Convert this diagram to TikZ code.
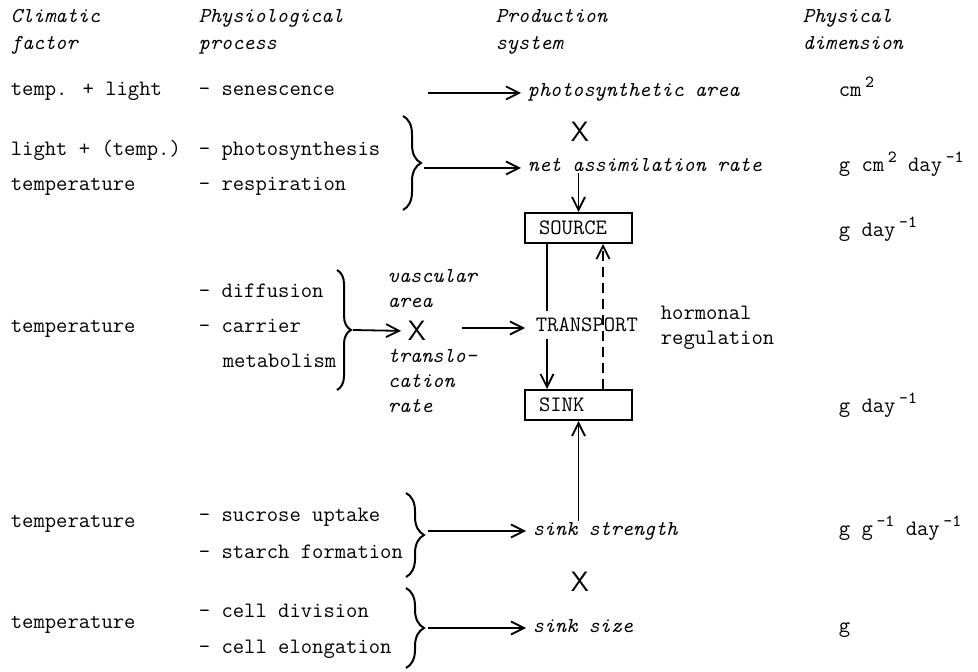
\documentclass[tikz,border=0pt]{standalone}
\usepackage{amsmath}
\usepackage{tikz}
\usetikzlibrary{arrows.meta}
\usetikzlibrary{decorations.pathreplacing}
\tikzset{>={Straight Barb[length=6.5pt,width=6.5pt]}}
\newcommand{\supr}[1]{\,\raisebox{4.5pt}{\fontsize{8.5}{9}\selectfont #1}}
\tikzset{
  txt/.style={anchor=base west, inner sep=0pt, font=\fontsize{11}{13}\selectfont\ttfamily},
  itx/.style={txt, font=\fontsize{10.6}{13}\selectfont\ttfamily\itshape},
  cross/.style={inner sep=0pt, font=\fontsize{14}{14}\selectfont\sffamily},
  boxnode/.style={txt, draw, anchor=center, line width=1pt, text width=39.5pt,
    inner xsep=7pt, minimum height=15pt, align=left},
  bracket/.style={decorate, decoration={brace, amplitude=#1}, line width=1pt},
  bracket/.default=9pt,
}

\begin{document}
\begin{tikzpicture}[x=0.5pt, y=-0.5pt, line width=0.9pt]
  % Define column positions
  \pgfmathsetmacro{\xfac}{10}
  \pgfmathsetmacro{\xproc}{198}
  \pgfmathsetmacro{\xprod}{527}
  \pgfmathsetmacro{\xdim}{838}
  \useasboundingbox (0,0) rectangle (978,672);

  % Column headers
  \node[itx] (hfac1) at (\xfac,23) {Climatic};
  \node[itx] (hfac2) at (\xfac,50) {factor};
  \node[itx] (hpro1) at (\xproc,23) {Physiological};
  \node[itx] (hpro2) at (\xproc,50) {process};
  \node[itx] (hsys1) at (495,23) {Production};
  \node[itx] (hsys2) at (495,50) {system};
  \node[itx] (hdim1) at (802,23) {Physical};
  \node[itx] (hdim2) at (802,50) {dimension};

  % Leaf area and assimilation
  \node[txt] (fac1) at (\xfac,96) {temp. + light};
  \node[txt] (pro1) at (\xproc,96) {- senescence};
  \node[itx] (area) at (\xprod,97) {photosynthetic area};
  \node[txt] (dim1) at (\xdim,97) {cm\supr{2}};
  \coordinate (s1) at (428,93);
  \draw[->, shorten >=3pt] (s1) -- (area.west |- s1);
  \node[cross] (x1) at (580,132) {X};

  \node[txt] (fac2) at (\xfac,156) {light + (temp.)};
  \node[txt] (pro2) at (\xproc,156) {- photosynthesis};
  \node[txt] (fac3) at (\xfac,191) {temperature};
  \node[txt] (pro3) at (\xproc,191) {- respiration};
  \draw[bracket] (403,116) -- (403,210);
  \coordinate (b1) at (424,168);
  \node[itx] (nar) at (\xprod,172) {net assimilation rate};
  \node[txt] (dim2) at (\xdim,172) {g cm\supr{2} day\supr{-1}};
  \draw[->, shorten >=3pt] (b1) -- (nar.west |- b1);

  % Source, transport, sink
  \node[boxnode] (source) at (578.5,228) {SOURCE};
  \node[txt] (dim3) at (\xdim,237) {g day\supr{-1}};
  \draw[->] (source.north |- nar.south) -- (source.north);

  \node[txt] (fac4) at (\xfac,333) {temperature};
  \node[txt] (pro4) at (\xproc,298) {- diffusion};
  \node[txt] (pro5) at (\xproc,333) {- carrier};
  \node[txt] (pro6) at (222,368) {metabolism};
  \draw[bracket=7pt] (337,270) -- (337,390);
  \coordinate (b2) at (353,330);
  \node[cross] (x2) at (417,331) {X};
  \draw[->, shorten >=3pt] (b2) -- (x2.west);
  \node[itx] (vasc1) at (387,283) {vascular};
  \node[itx] (vasc2) at (387,308) {area};
  \node[itx] (trl1) at (387,363) {translo-};
  \node[itx] (trl2) at (387,388) {cation};
  \node[itx] (trl3) at (387,413) {rate};
  \node[txt, inner ysep=3pt] (transport) at (535,332) {TRANSPORT};
  \draw[->, shorten >=5pt] (462,328) -- (transport.west |- 0,328);
  \node[txt] (horm1) at (660,320) {hormonal};
  \node[txt] (horm2) at (660,345) {regulation};

  \node[boxnode] (sink) at (578.5,405) {SINK};
  \node[txt] (dim4) at (\xdim,413) {g day\supr{-1}};
  \draw (source.south west -| 547,0) -- (transport.north -| 547,0);
  \draw[->] (transport.south -| 547,0) -- (sink.north west -| 547,0);
  \draw[->, dash pattern=on 5pt off 3pt] (sink.north west -| 603,0) -- (source.south west -| 603,0);

  % Sink strength and size
  \node[txt] (fac5) at (\xfac,527) {temperature};
  \node[txt] (pro7) at (\xproc,522) {- sucrose uptake};
  \node[txt] (pro8) at (\xproc,558) {- starch formation};
  \draw[bracket] (406,493) -- (406,577);
  \coordinate (b3) at (428,531);
  \node[itx] (sstr) at (532,535) {sink strength};
  \node[txt] (dim5) at (\xdim,535) {g g\supr{-1} day\supr{-1}};
  \draw[->, shorten >=3pt] (b3) -- (sstr.west |- b3);
  \draw[->] (sink.south |- sstr.north) -- (sink.south);
  \node[cross] (x3) at (580,582) {X};

  \node[txt] (fac6) at (\xfac,628) {temperature};
  \node[txt] (pro9) at (\xproc,617) {- cell division};
  \node[txt] (pro10) at (\xproc,653) {- cell elongation};
  \draw[bracket] (406,588) -- (406,668);
  \coordinate (b4) at (428,628);
  \node[itx] (ssize) at (532,632) {sink size};
  \node[txt] (dim6) at (\xdim,632) {g};
  \draw[->, shorten >=3pt] (b4) -- (ssize.west |- b4);
\end{tikzpicture}
\end{document}
